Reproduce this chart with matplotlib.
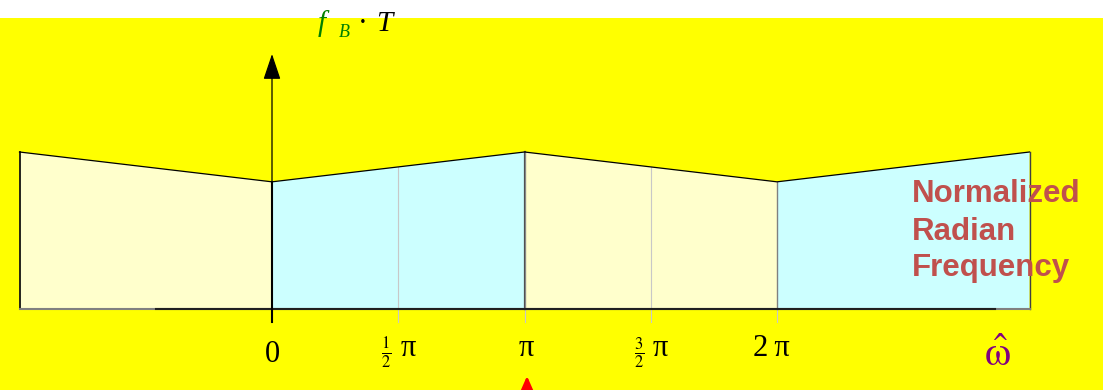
import numpy as np
import matplotlib
matplotlib.use("Agg")
import matplotlib.pyplot as plt

plt.rcParams['mathtext.fontset'] = 'stix'

# ---- data (x in units of pi) ----
band_edges = [-1.0, 0.0, 1.0, 2.0, 3.0]          # normalized frequency / pi
band_heights = [1.0, 0.81, 1.0, 0.81, 1.0]       # f_B * T at edges (relative)
band_colors = ['#FFFFCC', '#CCFFFF', '#FFFFCC', '#CCFFFF']
tick_pos = [0.0, 0.5, 1.0, 1.5, 2.0]
axis_arrow_top = 1.624
freq_label_lines = ['Normalized', 'Radian', 'Frequency']

W, H = 1103, 390
fig = plt.figure(figsize=(W / 100, H / 100), dpi=100)
fig.patch.set_facecolor('#FFFF00')
ax = fig.add_axes([0, 0, 1, 1])
ax.set_axis_off()
ax.set_facecolor('none')

PX = 252.5   # pixels per pi
PY = 157.0   # pixels per unit height
x0p, y0p = 272.0, 309.0
ax.set_xlim(-x0p / PX, (W - x0p) / PX)
ax.set_ylim(-(H - y0p) / PY, y0p / PY)

# white strip at top
ax.axhspan((y0p - 18) / PY, y0p / PY, color='white', zorder=0, lw=0)

# filled bands
xe = np.array(band_edges)
he = np.array(band_heights)
for i in range(len(xe) - 1):
    ax.fill([xe[i], xe[i], xe[i + 1], xe[i + 1]],
            [0, he[i], he[i + 1], 0], color=band_colors[i], lw=0, zorder=1)

# top outline
ax.plot(xe, he, color='black', lw=0.9, zorder=3)
# left edge
ax.plot([xe[0], xe[0]], [0, he[0]], color='black', lw=1.2, zorder=3)
# right edge
ax.plot([xe[-1], xe[-1]], [0, he[-1]], color='#404040', lw=1.0, zorder=3)
# bottom line
ax.plot([xe[0], xe[-1]], [0, 0], color='#808080', lw=1.5, zorder=3)
ax.plot([-0.46, 2.865], [0, 0], color='#202020', lw=1.5, zorder=3)

tick_bottom = -13 / PY
# half-pi grid lines (light gray)
for t in [0.5, 1.5]:
    ax.plot([t, t], [tick_bottom, np.interp(t, xe, he)], color='#C8C8C8', lw=0.8, zorder=2)
# pi line
ax.plot([1.0, 1.0], [tick_bottom, 0], color='#C8C8C8', lw=0.8, zorder=2)
ax.plot([1.0, 1.0], [0, np.interp(1.0, xe, he)], color='#505050', lw=1.6, zorder=2)
ax.plot([1.0, 1.0], [0, np.interp(1.0, xe, he)], color='#A0A0A0', lw=0.5, zorder=2)
# 2pi line
ax.plot([2.0, 2.0], [tick_bottom, 0], color='#C8C8C8', lw=0.8, zorder=2)
ax.plot([2.0, 2.0], [0, np.interp(2.0, xe, he)], color='#808080', lw=1.0, zorder=2)
# zero line (y axis)
ax.plot([0.0, 0.0], [tick_bottom, np.interp(0.0, xe, he)], color='black', lw=1.5, zorder=4)

# vertical axis arrow
ax.annotate('', xy=(0.0, axis_arrow_top), xytext=(0.0, 0.0),
            arrowprops=dict(arrowstyle='-|>,head_length=0.8,head_width=0.27',
                            mutation_scale=20, color='black', lw=0.9,
                            shrinkA=0, shrinkB=0), zorder=5)

# red arrow at the bottom (cut off)
ax.annotate('', xy=(1.01, -(376 - y0p) / PY), xytext=(1.01, -(430 - y0p) / PY),
            arrowprops=dict(arrowstyle='-|>,head_length=0.8,head_width=0.35',
                            mutation_scale=20, color='#FF0000', lw=2,
                            shrinkA=0, shrinkB=0), annotation_clip=False, zorder=5)

serif = 'Liberation Serif'
lab_y = -(355 - y0p) / PY
pi_y = -(349 - y0p) / PY
ax.text(tick_pos[0], lab_y, '0', fontsize=22, family=serif, ha='center', va='center')
for t, num in [(tick_pos[1], '1'), (tick_pos[3], '3')]:
    ax.text(t - 12 / PX, -(353 - y0p) / PY, r'$\frac{%s}{2}$' % num, fontsize=17,
            ha='center', va='center')
    ax.text(t + 10 / PX, pi_y, 'π', fontsize=22, family=serif, ha='center', va='center')
ax.text(tick_pos[2] + 2 / PX, pi_y, 'π', fontsize=22, family=serif, ha='center', va='center')
ax.text(tick_pos[4] - 6 / PX, pi_y, '2\u2009π', fontsize=22, family=serif, ha='center', va='center')

# omega hat
fig.text(997 / W, 1 - 354 / H, r'$\hat{\mathrm{\omega}}$', fontsize=30,
         color='#800080', ha='center', va='center')

# f_B . T label
fig.text(318 / W, 1 - 31 / H, 'f', fontsize=21, family=serif, style='italic',
         color='#008000', ha='left', va='baseline')
fig.text(339 / W, 1 - 37 / H, 'B', fontsize=13, family=serif, style='italic',
         color='#008000', ha='left', va='baseline')
fig.text(363 / W, 1 - 31 / H, '·', fontsize=21, family=serif,
         color='black', ha='center', va='baseline')
fig.text(376 / W, 1 - 31 / H, 'T', fontsize=21, family=serif, style='italic',
         color='black', ha='left', va='baseline')

# Normalized Radian Frequency
for line, base in zip(freq_label_lines, [202, 240, 276]):
    fig.text(912 / W, 1 - base / H, line, fontsize=22.5, family='Liberation Sans',
             weight='bold', color='#C0504D', ha='left', va='baseline')

fig.savefig('out.png', dpi=100, facecolor=fig.get_facecolor())
